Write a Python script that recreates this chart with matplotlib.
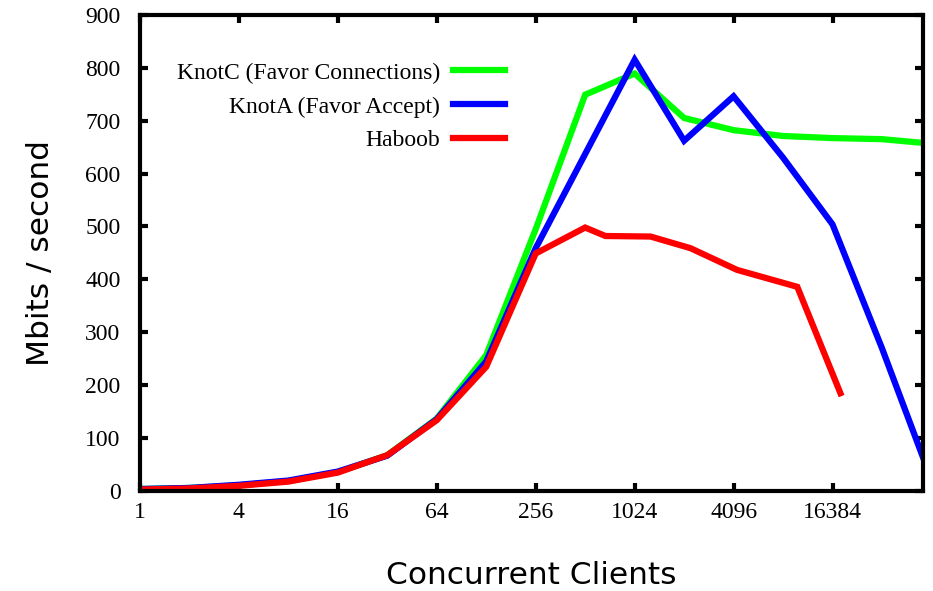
import matplotlib
matplotlib.use("Agg")
import matplotlib.pyplot as plt
from matplotlib.ticker import FixedLocator, NullLocator

# client counts and throughput (Mbits/s)
x_max = 58000
knotc_x = [1, 2, 4, 8, 16, 32, 64, 128, 256, 512, 1024, 2048, 4096, 8192, 16384, 32768, x_max]
knotc_y = [4, 6, 11, 19, 36, 68, 137, 257, 495, 749, 789, 705, 682, 671, 667, 665, 658]

knota_x = [1, 2, 4, 8, 16, 32, 64, 128, 256, 1024, 2048, 4096, 8192, 16384, 32768, x_max]
knota_y = [4, 6, 12, 20, 37, 67, 136, 245, 459, 815, 662, 746, 630, 504, 270, 65]

haboob_x = [1, 2, 4, 8, 16, 32, 64, 128, 256, 512, 680, 1280, 2240, 4300, 10000, 18300]
haboob_y = [3, 5, 10, 18, 35, 68, 134, 235, 449, 498, 482, 481, 459, 418, 386, 185]

xticks = [1, 4, 16, 64, 256, 1024, 4096, 16384]
yticks = list(range(0, 1000, 100))

serif = ['Liberation Serif', 'DejaVu Serif']
sans = ['DejaVu Sans']

fig = plt.figure(figsize=(9.33, 5.91), dpi=100)
ax = fig.add_axes([0.150, 0.169, 0.839, 0.806])

ax.plot(knotc_x, knotc_y, color='#00ff00', lw=4.5, label='KnotC (Favor Connections)', solid_joinstyle='miter')
ax.plot(knota_x, knota_y, color='#0000ff', lw=4.5, label='KnotA (Favor Accept)', solid_joinstyle='miter')
ax.plot(haboob_x, haboob_y, color='#ff0000', lw=4.5, label='Haboob', solid_joinstyle='miter')

ax.set_xscale('log', base=2)
ax.set_xlim(1, x_max)
ax.set_ylim(0, 900)
ax.xaxis.set_major_locator(FixedLocator(xticks))
ax.xaxis.set_minor_locator(NullLocator())
ax.set_xticklabels([str(t) for t in xticks], fontfamily=serif, fontsize=17)
ax.set_yticks(yticks)
ax.set_yticklabels([str(t) for t in yticks], fontfamily=serif, fontsize=17)

for s in ax.spines.values():
    s.set_linewidth(3)
ax.tick_params(axis='both', which='major', direction='in', length=6, width=3,
               top=True, right=True)
ax.tick_params(axis='x', pad=8)
ax.tick_params(axis='y', pad=14)

ax.set_xlabel('Concurrent Clients', fontfamily=sans, fontsize=22.5, labelpad=27)
ax.set_ylabel('Mbits / second', fontfamily=sans, fontsize=22.5, labelpad=22)

leg = ax.legend(loc='upper left', bbox_to_anchor=(0.02, 0.945), frameon=False,
                markerfirst=False, prop={'family': serif, 'size': 17},
                handlelength=2.2, handletextpad=0.55, labelspacing=0.52)
for t in leg.get_texts():
    t.set_ha('right')
leg._legend_box.align = 'right'

fig.savefig('out.png', dpi=100)
